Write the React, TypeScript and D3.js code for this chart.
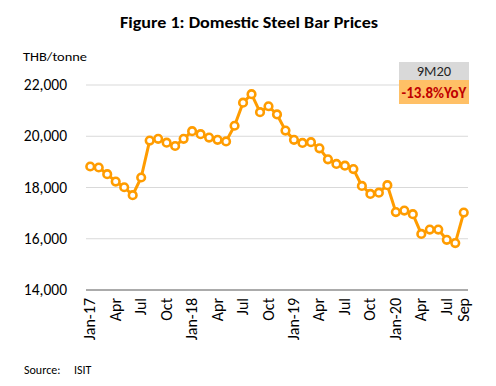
import * as d3 from "d3";
import * as React from "react";

// monthly domestic steel bar price, THB/tonne, Jan-17 .. Sep-20
const months: string[] = [];
for (let y = 17; y <= 20; y++) {
  ["Jan", "Feb", "Mar", "Apr", "May", "Jun", "Jul", "Aug", "Sep", "Oct", "Nov", "Dec"].forEach((m, i) => {
    if (y === 20 && i > 8) return;
    months.push(`${m}-${y}`);
  });
}

const prices: number[] = [
  18820, 18780, 18520, 18230, 18010, 17700, 18390, 19830, 19900, 19750, 19620, 19900,
  20200, 20080, 19950, 19860, 19800, 20410, 21310, 21640, 20940, 21170, 20850, 20220,
  19860, 19740, 19770, 19530, 19100, 18920, 18850, 18720, 18060, 17750, 17800, 18090,
  17040, 17100, 16960, 16190, 16360, 16360, 15960, 15830, 17020,
];

const yTicks = [14000, 16000, 18000, 20000, 22000];
const xTickLabels: Record<string, string> = {
  "Jan-17": "Jan-17", "Apr-17": "Apr", "Jul-17": "Jul", "Oct-17": "Oct",
  "Jan-18": "Jan-18", "Apr-18": "Apr", "Jul-18": "Jul", "Oct-18": "Oct",
  "Jan-19": "Jan-19", "Apr-19": "Apr", "Jul-19": "Jul", "Oct-19": "Oct",
  "Jan-20": "Jan-20", "Apr-20": "Apr", "Jul-20": "Jul", "Sep-20": "Sep",
};

const W = 496;
const H = 386;
const font = "Carlito, Calibri, 'Liberation Sans', Arial, sans-serif";
const orange = "#ff9c00";

export default function App() {
  const left = 86, right = 468, top = 85, bottom = 290;

  const x = d3.scalePoint<string>().domain(months).range([left, right]).padding(0.5);
  const y = d3.scaleLinear().domain([14000, 22000]).range([bottom, top]);

  const line = d3.line<number>()
    .x((_, i) => x(months[i]) as number)
    .y(d => y(d));

  return (
    <svg width={W} height={H} style={{ position: "absolute", left: 0, top: 0, background: "#fff" }}
      fontFamily={font}>
      <text x={249} y={28} textAnchor="middle" fontSize={16} fontWeight="bold" fill="#000"
        textLength={258} lengthAdjust="spacingAndGlyphs">
        Figure 1: Domestic Steel Bar Prices
      </text>

      <text x={23} y={61} fontSize={13} fill="#000" textLength={64} lengthAdjust="spacingAndGlyphs">THB/tonne</text>

      {yTicks.map(t => (
        <g key={t}>
          {t !== 14000 && (
            <line x1={left} x2={right} y1={y(t)} y2={y(t)} stroke="#d9d9d9" strokeWidth={1} />
          )}
          <text x={67} y={y(t) + 5} textAnchor="end" fontSize={15.5} fill="#000">
            {d3.format(",")(t)}
          </text>
        </g>
      ))}

      <line x1={left} x2={right} y1={bottom} y2={bottom} stroke="#595959" strokeWidth={1.2} />

      {months.filter(m => xTickLabels[m]).map(m => (
        <text key={m} transform={`translate(${(x(m) as number) + 5},${bottom + 8}) rotate(-90)`}
          textAnchor="end" fontSize={16} fill="#000">
          {xTickLabels[m]}
        </text>
      ))}

      <path d={line(prices) ?? ""} fill="none" stroke={orange} strokeWidth={3} strokeLinejoin="round" />
      {prices.map((p, i) => (
        <circle key={i} cx={x(months[i]) as number} cy={y(p)} r={3.8}
          fill="#fff" stroke={orange} strokeWidth={2.6} />
      ))}

      <rect x={399} y={62} width={70} height={18} fill="#d9d9d9" />
      <rect x={399} y={80} width={70} height={24} fill="#ffc066" />
      <text x={434} y={76} textAnchor="middle" fontSize={14.5} fill="#262626">9M20</text>
      <text x={434} y={98} textAnchor="middle" fontSize={15} fontWeight="bold" fill="#c00000">-13.8%YoY</text>

      <text x={24} y={374} fontSize={12} fill="#000">Source:</text>
      <text x={74} y={374} fontSize={12} fill="#000">ISIT</text>
    </svg>
  );
}
